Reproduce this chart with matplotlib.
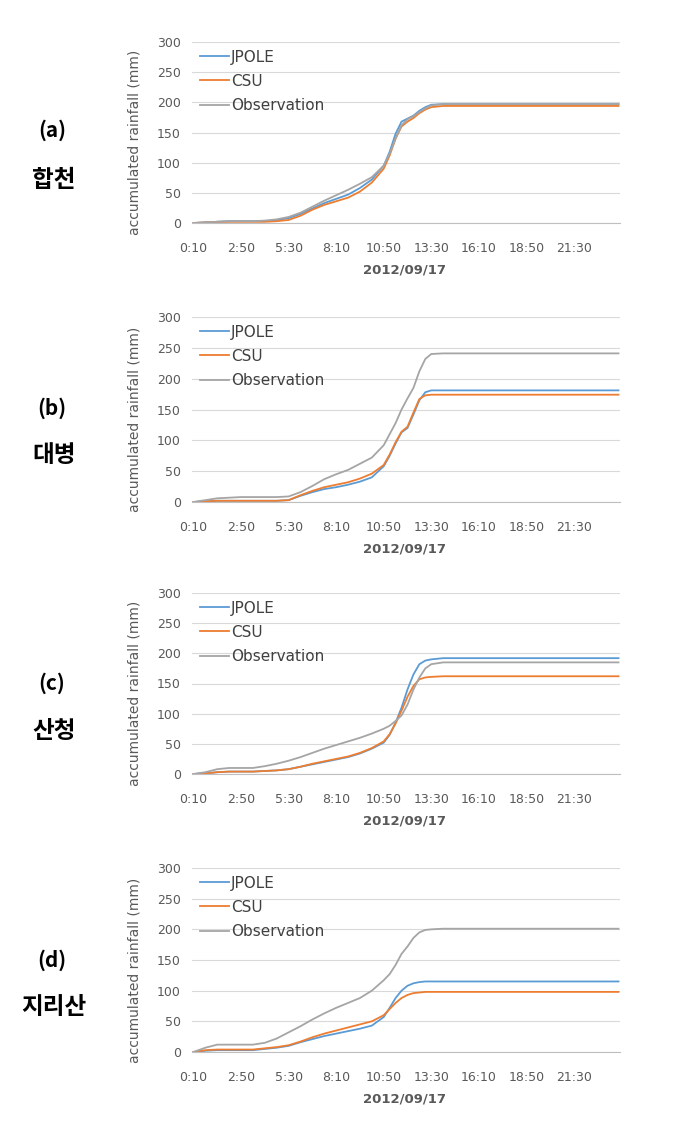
import matplotlib
matplotlib.use('Agg')
import matplotlib.pyplot as plt

plt.rcParams['font.family'] = ['DejaVu Sans']

# sample times (every 10 min category axis from 0:10 to 24:00)
times = ["0:10", "0:50", "1:30", "2:10", "2:50", "3:30", "4:10", "4:50", "5:30",
         "6:10", "6:50", "7:30", "8:10", "8:50", "9:30", "10:10", "10:50", "11:10",
         "11:30", "11:50", "12:10", "12:30", "12:50", "13:10", "13:30", "14:10", "24:00"]

tick_labels = ["0:10", "2:50", "5:30", "8:10", "10:50", "13:30", "16:10", "18:50", "21:30"]

# (a) 합천
a_jpole = [0, 1, 2, 3, 3, 3, 3, 5, 8, 15, 24, 33, 40, 47, 58, 72, 95, 118, 148, 168, 173, 178, 186, 192, 196, 197, 197]
a_csu = [0, 1, 2, 2, 2, 2, 2, 3, 5, 12, 22, 30, 36, 42, 52, 67, 90, 112, 140, 160, 168, 174, 182, 188, 192, 194, 194]
a_obs = [0, 1, 2, 3, 3, 3, 4, 6, 10, 17, 27, 37, 46, 55, 65, 76, 95, 115, 140, 162, 172, 177, 184, 190, 195, 197, 197]

# (b) 대병
b_jpole = [0, 1, 2, 2, 2, 2, 2, 2, 3, 10, 16, 21, 24, 28, 33, 40, 58, 75, 95, 113, 120, 142, 165, 178, 181, 181, 181]
b_csu = [0, 1, 2, 2, 2, 2, 2, 2, 3, 11, 18, 24, 28, 32, 38, 46, 60, 77, 97, 114, 122, 145, 167, 173, 174, 174, 174]
b_obs = [0, 3, 6, 7, 8, 8, 8, 8, 9, 16, 26, 37, 45, 52, 62, 72, 92, 110, 128, 150, 168, 185, 212, 232, 240, 241, 241]

# (c) 산청
c_jpole = [0, 1, 3, 4, 4, 4, 5, 6, 8, 12, 16, 20, 24, 28, 34, 42, 52, 65, 85, 110, 140, 165, 182, 188, 190, 192, 192]
c_csu = [0, 1, 3, 4, 4, 4, 5, 6, 8, 12, 17, 21, 25, 29, 35, 43, 54, 66, 84, 105, 128, 146, 157, 160, 161, 162, 162]
c_obs = [0, 3, 8, 10, 10, 10, 13, 17, 22, 28, 35, 42, 48, 54, 60, 67, 75, 80, 88, 97, 115, 140, 160, 175, 182, 185, 185]

# (d) 지리산
d_jpole = [0, 2, 3, 3, 3, 3, 5, 7, 10, 16, 21, 26, 30, 34, 38, 43, 57, 72, 88, 100, 108, 112, 114, 115, 115, 115, 115]
d_csu = [0, 3, 4, 4, 4, 4, 6, 8, 11, 17, 24, 30, 35, 40, 45, 50, 60, 70, 80, 88, 93, 96, 97, 98, 98, 98, 98]
d_obs = [0, 7, 12, 12, 12, 12, 15, 22, 32, 42, 53, 63, 72, 80, 88, 100, 117, 127, 142, 160, 172, 186, 195, 199, 200, 201, 201]

panels = [("(a)", "합천", a_jpole, a_csu, a_obs),
          ("(b)", "대병", b_jpole, b_csu, b_obs),
          ("(c)", "산청", c_jpole, c_csu, c_obs),
          ("(d)", "지리산", d_jpole, d_csu, d_obs)]


def cat_index(t):
    h, m = t.split(":")
    return (int(h) * 60 + int(m) - 10) / 10


x = [cat_index(t) for t in times]
xt = [cat_index(t) for t in tick_labels]

W, H = 691, 1127
fig = plt.figure(figsize=(W / 100, H / 100), dpi=100)

# pixel layout: (top of 300, y of 0)
boxes = [(42, 223), (317, 502), (593, 774), (868, 1052)]
label_y = [(130, 180), (408, 455), (683, 731), (960, 1007)]
left, right = 192, 620
gray = "#595959"

for (tag, name, jp, cs, ob), (top, bot), (ty, ny) in zip(panels, boxes, label_y):
    ax = fig.add_axes([left / W, 1 - bot / H, (right - left) / W, (bot - top) / H])
    ax.plot(x, jp, color="#5B9BD5", lw=1.3, label="JPOLE")
    ax.plot(x, cs, color="#ED7D31", lw=1.3, label="CSU")
    ax.plot(x, ob, color="#A5A5A5", lw=1.3, label="Observation")
    ax.set_xlim(-0.5, 143.5)
    ax.set_ylim(0, 300)
    ax.set_yticks(range(0, 301, 50))
    ax.set_xticks(xt)
    ax.set_xticklabels(tick_labels)
    ax.grid(axis='y', color="#D9D9D9", lw=0.8)
    ax.set_axisbelow(True)
    for s in ["top", "right", "left"]:
        ax.spines[s].set_visible(False)
    ax.spines["bottom"].set_color("#BFBFBF")
    ax.tick_params(axis='both', length=0, labelsize=9, colors=gray)
    ax.tick_params(axis='x', pad=14)
    ax.tick_params(axis='y', pad=8)
    leg = ax.legend(loc='upper left', bbox_to_anchor=(0.0, 1.0), frameon=False,
                    fontsize=11, handlelength=1.9, handletextpad=0.15,
                    labelspacing=0.6, borderaxespad=0.1, borderpad=0.4)
    for txt in leg.get_texts():
        txt.set_color("#404040")

    fig.text(405 / W, 1 - (bot + 47) / H, "2012/09/17", ha='center', va='center',
             fontsize=9.5, fontweight='bold', color=gray)
    fig.text(135 / W, 1 - (top + bot + 20) / 2 / H, "accumulated rainfall (mm)",
             rotation=90, ha='center', va='center', fontsize=10, color=gray)
    fig.text(52 / W, 1 - ty / H, tag, ha='center', va='center', fontsize=15,
             fontweight='bold', family=['Noto Sans CJK KR', 'DejaVu Sans'])
    fig.text(54 / W, 1 - ny / H, name, ha='center', va='center', fontsize=17,
             fontweight='bold', family=['Noto Sans CJK KR', 'DejaVu Sans'])

fig.savefig("out.png", dpi=100)
